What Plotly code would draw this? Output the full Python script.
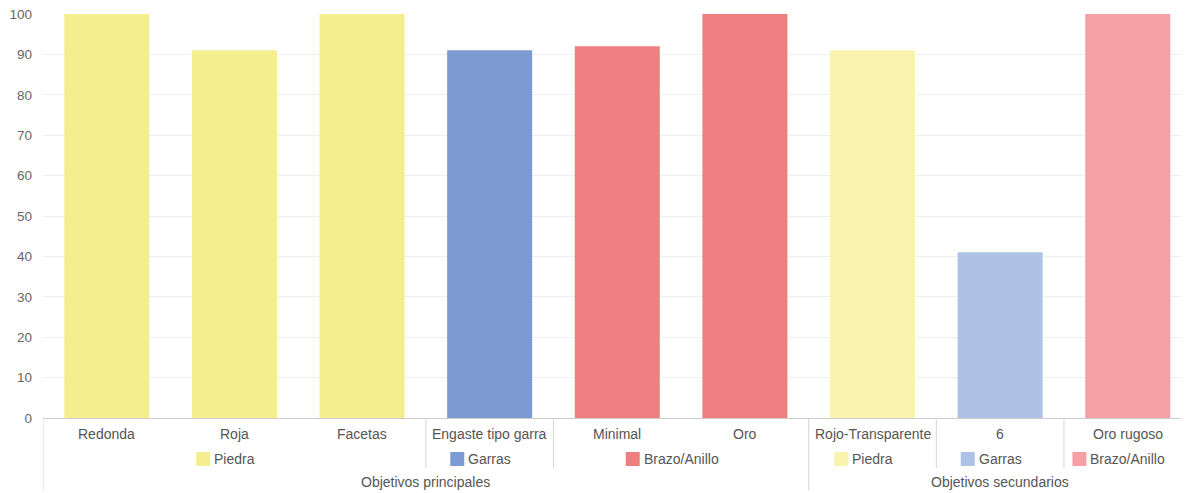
import plotly.graph_objects as go

# ---- data ----
categories = ["Redonda", "Roja", "Facetas", "Engaste tipo garra", "Minimal", "Oro",
              "Rojo-Transparente", "6", "Oro rugoso"]
values = [100, 91, 100, 91, 92, 100, 91, 41, 100]
subgroups = ["Piedra", "Piedra", "Piedra", "Garras", "Brazo/Anillo", "Brazo/Anillo",
             "Piedra", "Garras", "Brazo/Anillo"]
groups = ["Objetivos principales"] * 6 + ["Objetivos secundarios"] * 3
y_ticks = [0, 10, 20, 30, 40, 50, 60, 70, 80, 90, 100]

colors = {
    ("Objetivos principales", "Piedra"): "#F5EE8F",
    ("Objetivos principales", "Garras"): "#7B9BD2",
    ("Objetivos principales", "Brazo/Anillo"): "#EF7E81",
    ("Objetivos secundarios", "Piedra"): "#F8F4B0",
    ("Objetivos secundarios", "Garras"): "#AEC2E5",
    ("Objetivos secundarios", "Brazo/Anillo"): "#F4A0A5",
}

FONT = "Liberation Sans, Arial, sans-serif"
LABEL_SIZE = 14
TEXT_COL = "#555555"
LINE_COL = "#d6d6d6"

# Arial glyph widths (per 1000 em) to place the small colour squares
_w = {'P': 667, 'i': 222, 'e': 556, 'd': 556, 'r': 333, 'a': 556, 'G': 778, 's': 500,
      'B': 667, 'z': 500, 'o': 556, '/': 278, 'A': 667, 'n': 556, 'l': 222}
def text_w(t):
    return sum(_w.get(c, 556) for c in t) * LABEL_SIZE / 1000.0

x_idx = list(range(len(categories)))
bar_colors = [colors[(g, s)] for g, s in zip(groups, subgroups)]

fig = go.Figure()
fig.add_trace(go.Bar(x=x_idx, y=values, marker_color=bar_colors, marker_line_width=0,
                     hoverinfo="skip"))

# page body has an 8px margin
W, H = 1181, 485
mt, mb = 6, 75
ph = H - mt - mb

annotations = []
shapes = []

# level 1: category labels
for i, c in enumerate(categories):
    annotations.append(dict(x=i, y=0, xref="x", yref="paper", text=c, showarrow=False,
                            xanchor="center", yanchor="middle", yshift=-16,
                            font=dict(family=FONT, size=LABEL_SIZE, color=TEXT_COL)))

def runs(keys):
    out = []
    start = 0
    for i in range(1, len(keys) + 1):
        if i == len(keys) or keys[i] != keys[start]:
            out.append((start, i - 1, keys[start]))
            start = i
    return out

sub_runs = runs(list(zip(groups, subgroups)))
grp_runs = runs(groups)

# level 2: subgroup labels with colour squares
for a, b, key in sub_runs:
    cx = (a + b) / 2.0
    name = key[1]
    tw = text_w(name)
    annotations.append(dict(x=cx, y=0, xref="x", yref="paper", text=name, showarrow=False,
                            xanchor="center", yanchor="middle", yshift=-41,
                            font=dict(family=FONT, size=LABEL_SIZE, color=TEXT_COL)))
    shapes.append(dict(type="rect", xref="x", yref="paper", xsizemode="pixel",
                       ysizemode="pixel", xanchor=cx, yanchor=0,
                       x0=-tw / 2 - 18, x1=-tw / 2 - 4, y0=-48, y1=-34,
                       fillcolor=colors[key], line=dict(width=0)))

# level 3: group labels
for a, b, g in grp_runs:
    cx = (a + b) / 2.0
    annotations.append(dict(x=cx, y=0, xref="x", yref="paper", text=g, showarrow=False,
                            xanchor="center", yanchor="middle", yshift=-64,
                            font=dict(family=FONT, size=LABEL_SIZE, color=TEXT_COL)))

# separator lines
grp_bounds = set([a for a, b, g in grp_runs])
sub_bounds = set([a for a, b, k in sub_runs]) - grp_bounds
for a in sorted(grp_bounds):
    shapes.append(dict(type="line", xref="x", yref="paper", x0=a - 0.5, x1=a - 0.5,
                       y0=0, y1=-72 / ph, line=dict(color=LINE_COL, width=1)))
for a in sorted(sub_bounds):
    shapes.append(dict(type="line", xref="x", yref="paper", x0=a - 0.5, x1=a - 0.5,
                       y0=0, y1=-50 / ph, line=dict(color=LINE_COL, width=1)))

fig.update_layout(
    width=W, height=H,
    margin=dict(l=35, r=0, t=mt, b=mb, autoexpand=False),
    plot_bgcolor="white", paper_bgcolor="white",
    bargap=0.334,
    showlegend=False,
    annotations=annotations,
    shapes=shapes,
    font=dict(family=FONT, color=TEXT_COL),
)
fig.update_xaxes(range=[-0.5, 8.48], tickvals=x_idx, showticklabels=False,
                 showgrid=False, zeroline=False, showline=True, linecolor="#cccccc",
                 linewidth=1, ticks="", fixedrange=True, automargin=False)
fig.update_yaxes(range=[0, 100], tickvals=y_ticks, showgrid=True, gridcolor="#eeeeee",
                 zeroline=False, showline=False, ticks="", ticklabelstandoff=10,
                 ticklabeloverflow="allow", automargin=False,
                 tickfont=dict(family=FONT, size=13.5, color="#666666"), fixedrange=True)

fig.write_html("out.html", config={"displayModeBar": False})
